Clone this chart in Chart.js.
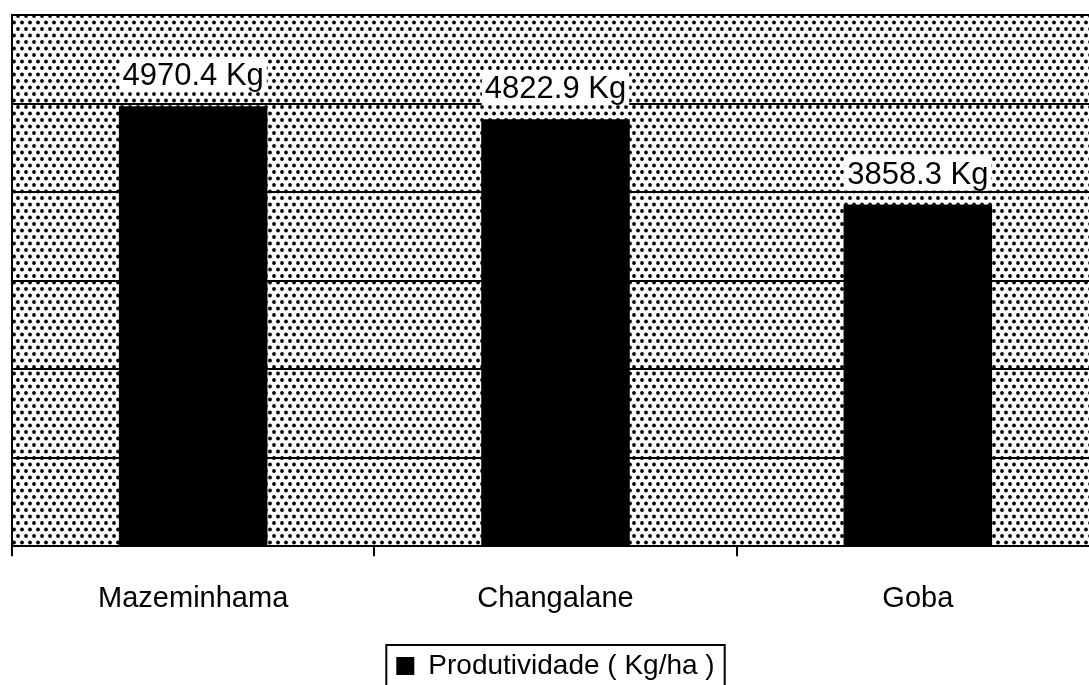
<!DOCTYPE html>
<html><head><meta charset="utf-8">
<script src="https://cdn.jsdelivr.net/npm/chart.js@4"></script>
<style>
html,body{margin:0;padding:0;background:#fff;overflow:hidden;width:1089px;height:685px}
#wrap{width:1100px;height:690px;position:relative}
</style>
</head><body><div id="wrap"><canvas id="c" width="1100" height="690"></canvas></div>
<script>
const categories = ['Mazeminhama', 'Changalane', 'Goba'];
const productivity = [4970.4, 4822.9, 3858.3];
const seriesLabel = 'Produtividade ( Kg/ha )';
const valueUnit = ' Kg';
const yMin = 0, yMax = 6000, yStep = 1000;

const FONT = "'Liberation Sans', Arial, Helvetica, sans-serif";

function makePattern(ctx) {
  const t = document.createElement('canvas');
  t.width = 8; t.height = 13;
  const g = t.getContext('2d');
  g.fillStyle = '#fff'; g.fillRect(0, 0, 8, 13);
  g.fillStyle = '#000';
  g.beginPath(); g.arc(2, 3, 1.9, 0, Math.PI * 2); g.fill();
  g.beginPath(); g.arc(6, 9.5, 1.9, 0, Math.PI * 2); g.fill();
  return ctx.createPattern(t, 'repeat');
}

const bgPlugin = {
  id: 'bgPattern',
  beforeDraw(chart) {
    const {ctx, chartArea: a} = chart;
    ctx.save();
    ctx.fillStyle = '#fff';
    ctx.fillRect(0, 0, chart.width, chart.height);
    ctx.fillStyle = makePattern(ctx);
    ctx.fillRect(a.left, a.top, a.right - a.left, a.bottom - a.top);
    ctx.restore();
  }
};

const labelPlugin = {
  id: 'valueLabels',
  afterDatasetsDraw(chart) {
    const {ctx} = chart;
    const meta = chart.getDatasetMeta(0);
    ctx.save();
    ctx.font = '31px ' + FONT;
    ctx.textAlign = 'center';
    ctx.textBaseline = 'alphabetic';
    meta.data.forEach((el, i) => {
      const txt = productivity[i].toFixed(1) + valueUnit;
      const w = ctx.measureText(txt).width;
      ctx.fillStyle = '#fff';
      ctx.fillRect(el.x - w / 2 - 3, el.y - 48, w + 6, 34);
      ctx.fillStyle = '#000';
      ctx.fillText(txt, el.x, el.y - 21);
    });
    ctx.restore();
  }
};

const legendBorderPlugin = {
  id: 'legendBorder',
  afterDraw(chart) {
    const lg = chart.legend;
    if (!lg || !lg.legendHitBoxes || !lg.legendHitBoxes.length) return;
    const hb = lg.legendHitBoxes[0];
    const cy = hb.top + hb.height / 2;
    const {ctx} = chart;
    ctx.save();
    ctx.strokeStyle = '#000';
    ctx.lineWidth = 2;
    ctx.strokeRect(hb.left - 10, cy - 21, hb.width + 20, 50);
    ctx.restore();
  }
};

new Chart(document.getElementById('c'), {
  type: 'bar',
  data: {
    labels: categories,
    datasets: [{
      label: seriesLabel,
      data: productivity,
      backgroundColor: '#000',
      borderWidth: 0,
      categoryPercentage: 1.0,
      barPercentage: 0.41
    }]
  },
  options: {
    responsive: false,
    devicePixelRatio: 1,
    animation: false,
    layout: {padding: {left: 12, top: 15, right: 1, bottom: 0}},
    plugins: {
      tooltip: {enabled: false},
      legend: {
        position: 'bottom',
        labels: {
          color: '#000',
          font: {family: FONT, size: 28},
          boxWidth: 18,
          boxHeight: 18,
          padding: 11
        }
      }
    },
    scales: {
      x: {
        offset: true,
        grid: {display: true, drawOnChartArea: false, drawTicks: true, tickLength: 10, color: '#000', lineWidth: 2, offset: true},
        border: {display: true, color: '#000', width: 2},
        ticks: {color: '#000', font: {family: FONT, size: 29}, padding: 25}
      },
      y: {
        min: yMin, max: yMax,
        ticks: {display: false, stepSize: yStep},
        grid: {color: '#000', lineWidth: 2, drawTicks: false},
        border: {display: true, color: '#000', width: 2},
        afterFit(s) { s.width = 0; }
      }
    }
  },
  plugins: [bgPlugin, labelPlugin, legendBorderPlugin]
});
</script>
</body></html>
